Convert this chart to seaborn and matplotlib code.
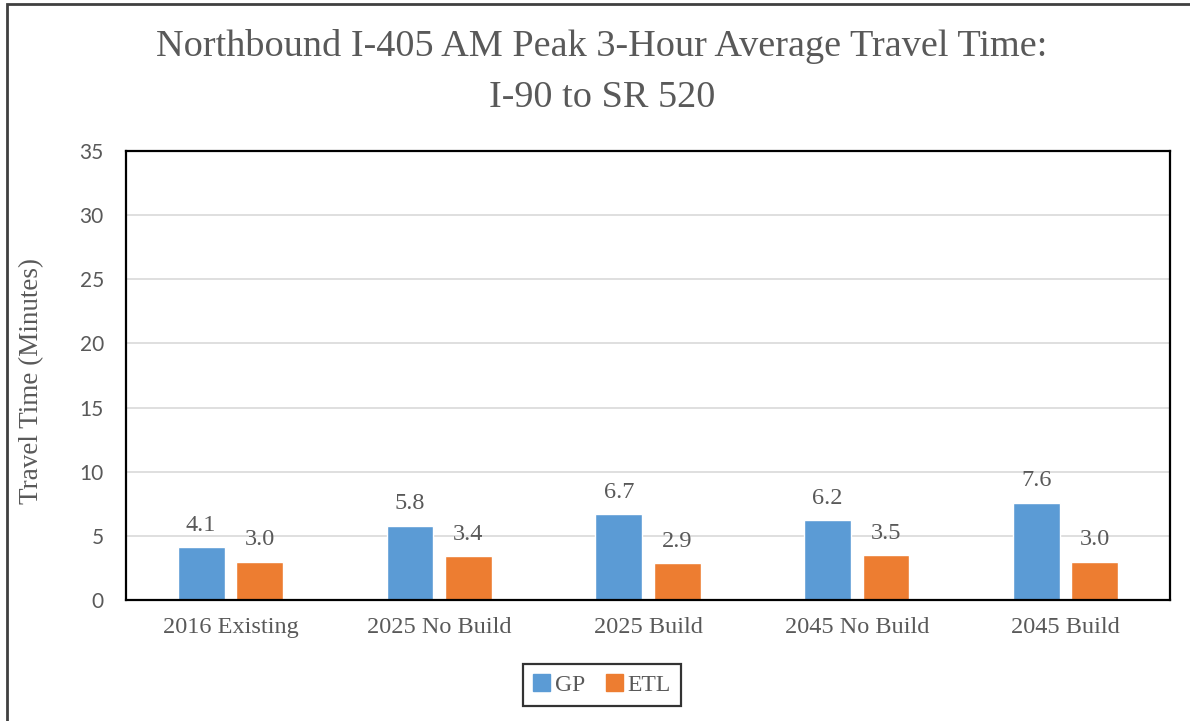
import matplotlib
matplotlib.use("Agg")
import matplotlib.pyplot as plt
import matplotlib.patches as mpatches
import seaborn as sns
import pandas as pd

# values
scenarios = ["2016 Existing", "2025 No Build", "2025 Build", "2045 No Build", "2045 Build"]
gp = [4.1, 5.8, 6.7, 6.2, 7.6]
etl = [3.0, 3.4, 2.9, 3.5, 3.0]
lanes = ["GP", "ETL"]
colors = ["#5B9BD5", "#ED7D31"]

df = pd.DataFrame({
    "Scenario": scenarios * 2,
    "Lane": ["GP"] * len(gp) + ["ETL"] * len(etl),
    "Minutes": gp + etl,
})

sns.set_theme(style="white")
serif = ["Liberation Serif", "DejaVu Serif"]
gray = "#595959"

fig = plt.figure(figsize=(11.9, 7.21), dpi=100)
ax = fig.add_axes([126 / 1190, 1 - 600 / 721, (1170 - 126) / 1190, (600 - 151) / 721])

sns.barplot(data=df, x="Scenario", y="Minutes", hue="Lane", order=scenarios,
            hue_order=lanes, palette=colors, width=0.56, gap=0.2,
            saturation=1, ax=ax, legend=False)

for cont in ax.containers:
    ax.bar_label(cont, fmt="%.1f", padding=8, fontsize=17.5, color=gray, family=serif)

ax.set_ylim(0, 35)
ax.set_yticks(range(0, 36, 5))
ax.yaxis.grid(True, color="#D9D9D9", linewidth=1.2)
ax.set_axisbelow(True)
for s in ax.spines.values():
    s.set_visible(True)
    s.set_color("black")
    s.set_linewidth(1.6)
ax.set_xlabel("")
ax.set_ylabel("")
ax.tick_params(axis="x", length=0, pad=12)
ax.tick_params(axis="y", length=0, pad=16)
for t in ax.get_xticklabels():
    t.set_fontfamily(serif)
    t.set_fontsize(17.5)
    t.set_color(gray)
for t in ax.get_yticklabels():
    t.set_fontfamily(["Lato", "DejaVu Sans"])
    t.set_fontsize(15)
    t.set_color(gray)

fig.text(602 / 1190, 1 - 47 / 721, "Northbound I-405 AM Peak 3-Hour Average Travel Time:",
         ha="center", va="center", fontsize=27.5, color=gray, family=serif)
fig.text(602 / 1190, 1 - 98 / 721, "I-90 to SR 520",
         ha="center", va="center", fontsize=27.5, color=gray, family=serif)
fig.text(32 / 1190, 1 - 381 / 721, "Travel Time (Minutes)", rotation=90,
         ha="center", va="center", fontsize=19.5, color=gray, family=serif)

handles = [mpatches.Patch(color=c) for c in colors]
leg = fig.legend(handles, lanes, loc="center", bbox_to_anchor=(602 / 1190, 1 - 685 / 721),
                 ncol=2, frameon=True, fancybox=False, edgecolor="black",
                 handlelength=0.7, handleheight=0.7, handletextpad=0.2,
                 columnspacing=0.9, borderpad=0.45, borderaxespad=0,
                 prop={"family": serif, "size": 17})
leg.get_frame().set_linewidth(1.6)
for t in leg.get_texts():
    t.set_color(gray)

# outer frame of the exhibit
frame = mpatches.Rectangle((7 / 1190, -0.05), 1.2, 1 - 4.5 / 721 + 0.05,
                           transform=fig.transFigure, fill=False,
                           edgecolor="#404040", linewidth=2, clip_on=False)
fig.patches.append(frame)

fig.savefig("out.png", dpi=100)
